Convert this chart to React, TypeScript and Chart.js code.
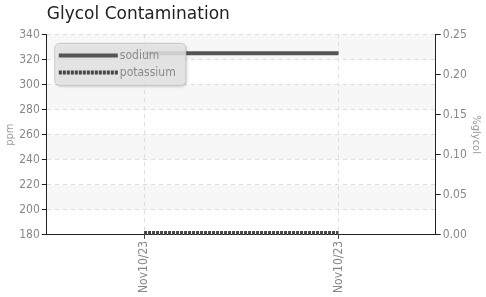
import React, { useEffect, useRef } from "react";
import { Chart, registerables } from "chart.js";

Chart.register(...registerables);

const categories = ["Nov10/23", "Nov10/23"];
const sodium = [325, 325];
const potassium = [181.5, 181.5];
const leftTicks = { min: 180, max: 340, step: 20 };
const rightTicks = { min: 0, max: 0.25, step: 0.05 };

const FONT = "'DejaVu Sans Condensed', 'Liberation Sans Narrow', 'Roboto', sans-serif";

const bandsPlugin = {
  id: "bands",
  beforeDraw(chart: any) {
    const { ctx, chartArea, scales } = chart;
    const y = scales.y;
    ctx.save();
    let i = 0;
    for (let v = leftTicks.max; v > leftTicks.min; v -= leftTicks.step) {
      if (i % 2 === 0) {
        const top = y.getPixelForValue(v);
        const bot = y.getPixelForValue(v - leftTicks.step);
        ctx.fillStyle = "#f7f7f7";
        ctx.fillRect(chartArea.left, top, chartArea.right - chartArea.left, bot - top);
      }
      i++;
    }
    ctx.restore();
  },
};

const legendPlugin = {
  id: "boxLegend",
  afterDraw(chart: any) {
    const { ctx, chartArea } = chart;
    const x = chartArea.left + 8;
    const y = chartArea.top + 9;
    const w = 131;
    const h = 42;
    ctx.save();
    ctx.shadowColor = "rgba(0,0,0,0.25)";
    ctx.shadowBlur = 3;
    ctx.shadowOffsetX = 1;
    ctx.shadowOffsetY = 1;
    ctx.beginPath();
    ctx.roundRect(x, y, w, h, 5);
    ctx.fillStyle = "rgba(232,232,232,0.85)";
    ctx.fill();
    ctx.shadowColor = "transparent";
    ctx.strokeStyle = "#c8c8c8";
    ctx.lineWidth = 1;
    ctx.stroke();
    chart.data.datasets.forEach((ds: any, i: number) => {
      const ly = y + 12 + i * 17;
      ctx.beginPath();
      ctx.setLineDash(ds.borderDash || []);
      ctx.strokeStyle = ds.borderColor;
      ctx.lineWidth = ds.borderWidth;
      ctx.moveTo(x + 4, ly);
      ctx.lineTo(x + 63, ly);
      ctx.stroke();
      ctx.setLineDash([]);
      ctx.fillStyle = "#8a8a8a";
      ctx.font = `12px ${FONT}`;
      ctx.textBaseline = "middle";
      ctx.fillText(ds.label, x + 65, ly);
    });
    ctx.restore();
  },
};

export default function App() {
  const ref = useRef<HTMLCanvasElement>(null);
  useEffect(() => {
    if (!ref.current) return;
    const chart = new Chart(ref.current, {
      type: "line",
      data: {
        labels: categories,
        datasets: [
          {
            label: "sodium",
            data: sodium,
            borderColor: "#555555",
            backgroundColor: "#555555",
            borderWidth: 4,
            pointRadius: 0,
            yAxisID: "y",
          },
          {
            label: "potassium",
            data: potassium,
            borderColor: "#444444",
            backgroundColor: "#444444",
            borderWidth: 4,
            borderDash: [3, 1],
            pointRadius: 0,
            clip: false as any,
            yAxisID: "y",
          },
        ],
      },
      options: {
        animation: false,
        responsive: true,
        maintainAspectRatio: false,
        layout: { padding: { top: 0, right: 4, left: 4, bottom: 2 } },
        plugins: {
          legend: { display: false },
          tooltip: { enabled: false },
          title: {
            display: true,
            text: "Glycol Contamination",
            align: "start",
            fullSize: false,
            color: "#222",
            font: { family: "'DejaVu Sans', sans-serif", size: 17, weight: "normal" },
            padding: { top: 4, bottom: 10 },
          },
        },
        scales: {
          x: {
            type: "category",
            offset: true,
            grid: {
              color: "#dddddd",
              tickColor: "#444",
              tickLength: 4,
              offset: false,
            },
            border: { color: "#222", dash: [4, 4], width: 1 },
            ticks: {
              color: "#888",
              font: { family: FONT, size: 12 },
              maxRotation: 90,
              minRotation: 90,
              padding: 2,
            },
          },
          y: {
            position: "left",
            min: leftTicks.min,
            max: leftTicks.max,
            grid: {
              color: "#dddddd",
              tickColor: "#222",
              tickLength: 5,
            },
            border: { color: "#222", dash: [4, 4], width: 1 },
            ticks: {
              stepSize: leftTicks.step,
              color: "#888",
              font: { family: FONT, size: 12 },
              padding: 2,
            },
            title: {
              display: true,
              text: "ppm",
              color: "#999",
              font: { family: FONT, size: 11 },
              padding: 0,
            },
          },
          y1: {
            position: "right",
            min: rightTicks.min,
            max: rightTicks.max,
            grid: {
              drawOnChartArea: false,
              tickColor: "#222",
              tickLength: 5,
            },
            border: { color: "#222", width: 1 },
            ticks: {
              stepSize: rightTicks.step,
              color: "#888",
              font: { family: FONT, size: 12 },
              padding: 2,
              callback: (v: any) => Number(v).toFixed(2),
            },
            title: {
              display: true,
              text: "%glycol",
              color: "#999",
              font: { family: FONT, size: 11 },
              padding: 0,
            },
          },
        },
      },
      plugins: [bandsPlugin, legendPlugin],
    });
    return () => chart.destroy();
  }, []);
  return (
    <div style={{ position: "fixed", left: 0, top: 0, width: 486, height: 297 }}>
      <canvas ref={ref} />
    </div>
  );
}
